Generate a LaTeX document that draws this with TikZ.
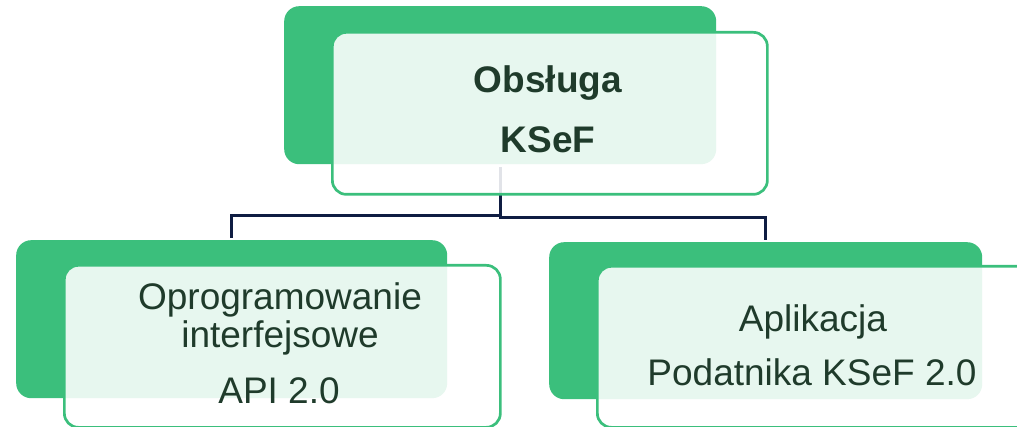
\documentclass[tikz,border=0pt]{standalone}
\usepackage{fontspec}
\setmainfont{Liberation Sans}
\definecolor{kgreen}{HTML}{3BBF7C}
\definecolor{ktext}{HTML}{1F3B2B}
\definecolor{knavy}{HTML}{0F1D42}
\tikzset{
  backbox/.style={fill=kgreen, draw=none, rounded corners=15pt, inner sep=0pt, anchor=north west},
  frontbox/.style={draw=kgreen, line width=2.7pt, fill=white, fill opacity=0.88, rounded corners=14pt, inner sep=0pt, anchor=north west},
  conn/.style={draw=knavy, line width=2.6pt, shorten >=2pt},
  lbl/.style={text=ktext, font=\fontsize{37}{44}\selectfont, anchor=base, inner sep=0pt},
}
\begin{document}
\begin{tikzpicture}[x=1pt,y=-1pt]
\clip (0,0) rectangle (1017,427);
% back boxes
\node[backbox, minimum width=432pt, minimum height=158pt] (tb) at (284,6) {};
\node[backbox, minimum width=431pt, minimum height=158pt] (lb) at (16,240) {};
\node[backbox, minimum width=433pt, minimum height=157pt] (rb) at (549,242) {};
% connectors
\draw[conn] (tb.south) ++(0,3) -- ++(0,48) -| (lb.north);
\draw[conn] (tb.south) ++(0,3) -- ++(0,50) -| (rb.north);
% front boxes
\node[frontbox, minimum width=435pt, minimum height=162pt] (tf) at (331,31) {};
\node[frontbox, minimum width=436pt, minimum height=162pt] (lf) at (63,264) {};
\node[frontbox, minimum width=434pt, minimum height=161pt] (rf) at (596,265) {};
% labels
\node[lbl, font=\fontsize{37}{44}\selectfont\bfseries] (t1) at (548,93) {Obsługa};
\node[lbl, font=\fontsize{37}{44}\selectfont\bfseries] (t2) at (548,153) {KSeF};
\node[lbl] (l1) at (280,310) {Oprogramowanie};
\node[lbl] (l2) at (280,348) {interfejsowe};
\node[lbl] (l3) at (279,403) {API 2.0};
\node[lbl] (r1) at (813,332) {Aplikacja};
\node[lbl] (r2) at (812,385) {Podatnika KSeF 2.0};
\end{tikzpicture}
\end{document}
